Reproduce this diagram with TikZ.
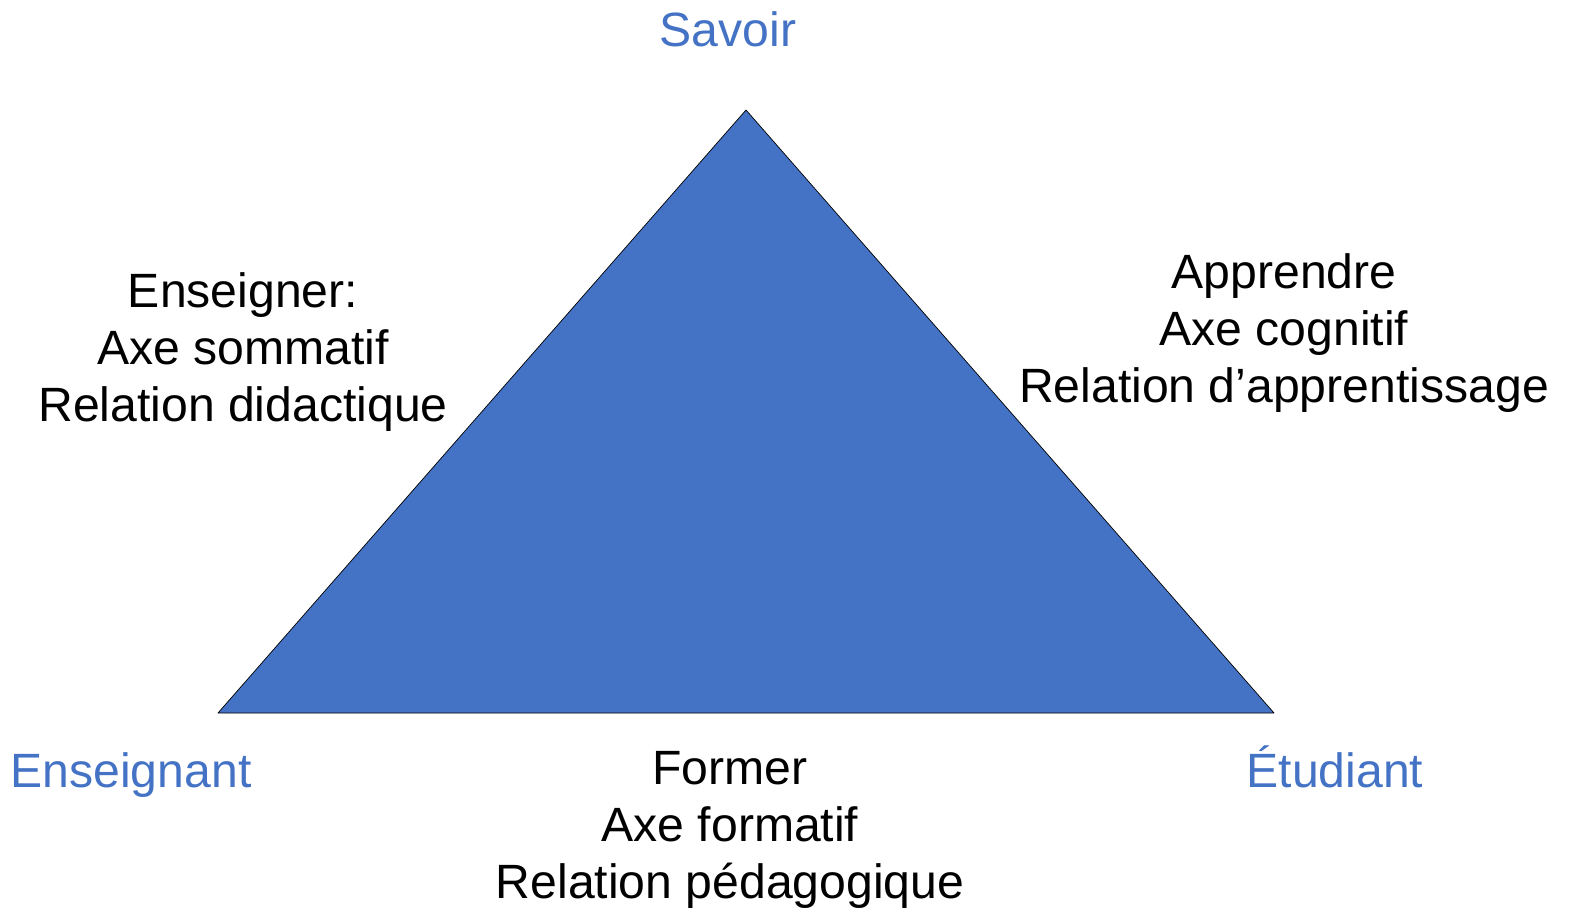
\documentclass[tikz,border=0pt]{standalone}
\usepackage{fontspec}
\setmainfont{Liberation Sans}
\definecolor{officeblue}{HTML}{4472C4}
\begin{document}
\begin{tikzpicture}[x=0.02cm,y=-0.02cm,line join=round]
	\tikzset{every node/.style={font=\fontsize{27.4}{32.3}\selectfont,align=center,inner sep=0pt},
		pole/.style={text=officeblue,anchor=base},
		axe/.style={text=black}}
	\useasboundingbox (0,0) rectangle (1574,912);
	% sommets du triangle
	\coordinate (S) at (746,110);
	\coordinate (E) at (218,713);
	\coordinate (T) at (1274,713);
	\draw[fill=officeblue,thin] (S)--(E)--(T)--cycle;
	% poles
	\node[pole] (savoir) at (728,47) {Savoir};
	\node[pole] (enseignant) at (131,787) {Enseignant};
	\node[pole] (etudiant) at (1335,787) {Étudiant};
	% axes
	\node[axe] (enseigner) at (243,352) {Enseigner:\\Axe sommatif\\Relation didactique};
	\node[axe] (apprendre) at (1284,333) {Apprendre\\Axe cognitif\\Relation d’apprentissage};
	\node[axe] (former) at (730,830) {Former\\Axe formatif\\Relation pédagogique};
\end{tikzpicture}
\end{document}
